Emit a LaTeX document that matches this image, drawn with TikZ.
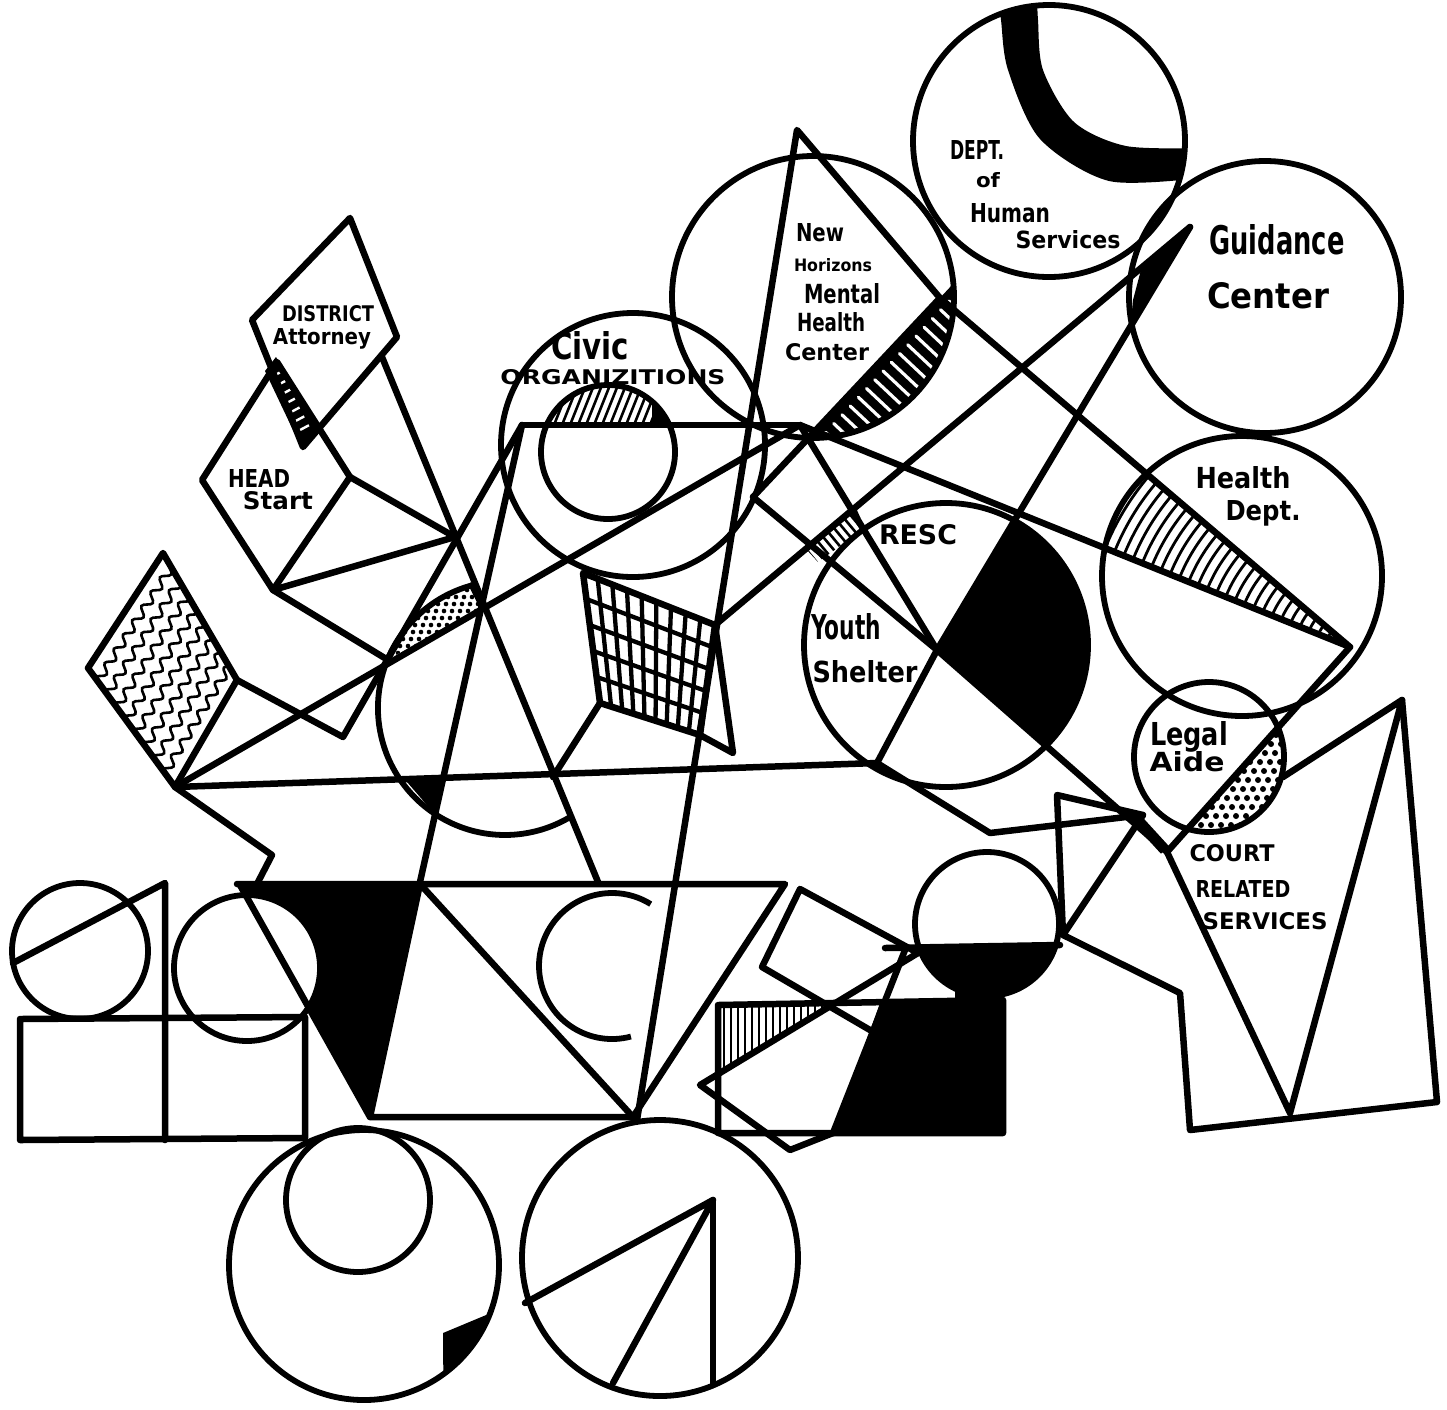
\documentclass[tikz,border=0pt]{standalone}
\usepackage{fontspec}
\setmainfont{DejaVu Sans}
\usepackage{graphicx}
\usetikzlibrary{calc,decorations.pathmorphing}
\newcommand{\rz}[3]{\resizebox{#1pt}{#2pt}{\bfseries #3}}
\begin{document}
\begin{tikzpicture}[x=1pt,y=-1pt,
 ln/.style={line width=6.5pt,line cap=round,line join=round},
 cir/.style={line width=5.8pt},
 lbl/.style={inner sep=0pt,outer sep=0pt},
 thinh/.style={line width=2.6pt}]
\useasboundingbox (0,0) rectangle (1447,1409);
\fill[white] (0,0) rectangle (1447,1409);

% ---------- key points ----------
\coordinate (apex) at (797,130);
\coordinate (bend) at (940,298);
\coordinate (tip) at (1350,647);
\coordinate (court) at (1167,852);
\coordinate (junc) at (937,650);
\coordinate (spike) at (1190,227);
\coordinate (civj) at (753,497);
\coordinate (topR) at (800,425);
\coordinate (topL) at (522,425);
\coordinate (wb) at (175,787);
\coordinate (gTL) at (583,573);
\coordinate (gTR) at (715,625);
\coordinate (gBR) at (700,735);
\coordinate (gBL) at (600,703);

% ---------- fills and hatches ----------
% DHS crescent
\begin{scope}
\clip (1049,141) circle[radius=136];
\fill plot[smooth] coordinates {(998,-5) (1001,20) (1008,70) (1040,139) (1109,181) (1200,178)}
  -- plot[smooth] coordinates {(1200,148) (1126,146) (1074,122) (1043,70) (1038,20) (1037,-5)} -- cycle;
\end{scope}
% Guidance spike
\fill (spike) -- (1142,266) -- (1133,300) -- (1131,322) -- cycle;
% New Horizons hatch
\begin{scope}
\clip (813,297) circle[radius=141];
\clip (795,453) -- (967,269) -- (1113,406) -- (941,590) -- cycle;
\fill (660,150) rectangle (980,460);
\foreach \s in {12,24,...,216}
  \draw[white,line width=3.2pt,line cap=round] ({795+0.685*\s+0.729*8},{453-0.729*\s+0.685*8}) -- ++({0.729*40},{0.685*40});
\end{scope}
% Civic cap
\begin{scope}
\clip (608,452) circle[radius=67];
\clip (530,370) rectangle (690,425);
\foreach \x in {520,528,...,680} \draw[thinh] (\x,430) -- ++(22,-55);
\fill (652,370) rectangle (690,425);
\end{scope}
% District attorney strip
\fill (276,357) -- (265,371) -- (302,449) -- (318,428) -- cycle;
\foreach \t in {0.14,0.26,...,0.9}
  \draw[white,line width=2.4pt] ({271+39*\t-4.4},{364+74*\t+2.3}) -- ++(8.8,-4.7);
% Health Dept wedge
\begin{scope}
\clip (1242,576) circle[radius=140];
\clip (tip) -- (bend) -- (800,427) -- cycle;
\foreach \r in {14,24,...,300} \draw[line width=2.8pt] (tip) circle[radius=\r];
\end{scope}
% RESC black sector
\begin{scope}
\clip (946,645) circle[radius=142];
\fill (junc) -- (spike) -- (1400,227) -- (1400,1000) -- (court) -- cycle;
\end{scope}
% RESC small hatch
\begin{scope}
\clip (806,549) -- (856,508) -- (865,528) -- (818,562) -- cycle;
\foreach \s in {0,7,...,77}
  \draw[thinh] ({800+0.77*\s-0.64*12},{553-0.64*\s-0.77*12}) -- ++({0.64*40},{0.77*40});
\end{scope}
% grid
\foreach \i in {0,...,9} {
  \pgfmathsetmacro\f{\i/9}
  \draw[line width=4.3pt] ($(gTL)!\f!(gTR)$) -- ($(gBL)!\f!(gBR)$);
}
\foreach \j in {0,...,5} {
  \pgfmathsetmacro\f{\j/5}
  \draw[line width=4.3pt] ($(gTL)!\f!(gBL)$) -- ($(gTR)!\f!(gBR)$);
}
% wave box
\begin{scope}
\clip (163,553) -- (237,680) -- (wb) -- (88,668) -- cycle;
\foreach \k in {1,...,8} {
  \pgfmathsetmacro\f{\k/9}
  \draw[line width=2.6pt,decorate,decoration={snake,amplitude=4pt,segment length=17pt}]
    ($(88,668)!\f!(wb) + (-11,17)$) -- ($(163,553)!\f!(237,680) + (11,-17)$);
}
\end{scope}
% stipple strip on the big arc
\begin{scope}
\clip (483,607) -- (472.1,585.3) arc[start angle=255,end angle=202.3,radius=127] -- cycle;
\foreach \y [count=\j] in {576,583,...,668} {
  \pgfmathsetmacro\o{mod(\j*5,7)}
  \foreach \x in {378,386,...,492} { \fill ({\x+\o},\y) circle[radius=2.3]; }
}
\end{scope}
% Legal stipple
\begin{scope}
\clip (1209,757) circle[radius=75];
\clip (tip) -- (court) -- (1300,900) -- (1400,700) -- cycle;
\foreach \y [count=\j] in {690,699,...,845} {
  \pgfmathsetmacro\o{mod(\j*4,9)}
  \foreach \x in {1160,1170,...,1300} { \fill ({\x+\o},\y) circle[radius=3]; }
}
\end{scope}
% black triangle in trapezoid (circle left white)
\fill (240,885) -- (420,883) -- (370,1117) -- cycle;
\fill[white] (247,968) circle[radius=73];
% small black bits
\fill (407,782) -- (443,780) -- (433,812) -- cycle;
\fill (443,1333) -- (490,1313.4) arc[start angle=21,end angle=54,radius=135] -- cycle;
% half circle and black block
\begin{scope}
\clip (987,924) circle[radius=72];
\fill (900,946) rectangle (1070,1010);
\end{scope}
\fill (833,1133) -- (880,1003) -- (1003,1000) -- (1003,1133) -- cycle;
\fill (955,985) rectangle (1003,1002);
% hatched triangle
\begin{scope}
\clip (718,1005) -- (835,1003) -- (718,1074) -- cycle;
\foreach \x in {724,731,...,836} \draw[thinh] (\x,995) -- (\x,1080);
\end{scope}
% court black bit
\draw[line width=11pt] (1133,815) -- (1165,850);

% ---------- circles ----------
\draw[cir] (1049,141) circle[radius=136];
\draw[cir] (1265,297) circle[radius=136];
\draw[cir] (813,297) circle[radius=141];
\draw[cir] (633,445) circle[radius=132];
\draw[cir] (608,452) circle[radius=67];
\draw[cir] (1242,576) circle[radius=140];
\draw[cir] (946,645) circle[radius=142];
\draw[cir] (1209,757) circle[radius=75];
\draw[cir] (987,924) circle[radius=72];
\draw[cir] (80,951) circle[radius=68];
\draw[cir] (247,968) circle[radius=73];
\draw[cir] (364,1265) circle[radius=135];
\draw[cir] (358,1200) circle[radius=72];
\draw[cir] (660,1258) circle[radius=138];
\draw[cir] (472.1,585.3) arc[start angle=255,end angle=59,radius=127];
\draw[cir] (650.7,904.1) arc[start angle=-58,end angle=-285,radius=73];

% ---------- lines ----------
% district attorney and head start
\draw[ln] (350,218) -- (397,337) -- (303,447) -- (252,320) -- cycle;
\draw[ln] (277,362) -- (350,477) -- (273,590) -- (202,480) -- cycle;
\draw[ln] (382,357) -- (598,882);
\draw[ln] (350,477) -- (455,537) -- (273,590);
\draw[ln] (273,590) -- (388,660);
\draw[ln] (topL) -- (343,737) -- (237,680);
\draw[ln] (topL) -- (420,882);
\draw[ln] (topL) -- (topR);
\draw[ln] (wb) -- (topR);
\draw[ln] (163,553) -- (237,680) -- (wb) -- (88,668) -- cycle;
\draw[ln] (wb) -- (877,763) -- (990,833) -- (1143,815);
\draw[ln] (wb) -- (272,855) -- (257,884);
\draw[ln] (483,607) -- (472.1,585.3);
% big triangle and crossings
\draw[ln] (637,1120) -- (apex) -- (bend) -- (tip) -- (court) -- (1290,1113) -- (1402,700) -- (1283,777);
\draw[ln] (civj) -- (bend);
\draw[ln] (civj) -- (junc) -- (court);
\draw[ln] (topR) -- (junc);
\draw[ln] (topR) -- (tip);
\draw[ln] (gTR) -- (spike);
\draw[ln] (junc) -- (spike);
\draw[ln] (junc) -- (877,763);
% grid outline
\draw[ln] (gTL) -- (gTR) -- (733,753) -- (gBR) -- (gBL) -- cycle;
\draw[ln] (gTR) -- (gBR);
\draw[ln] (gBL) -- (553,777);
% court related services
\draw[ln] (1402,700) -- (1437,1102) -- (1190,1130) -- (1180,993) -- (1063,935) -- (1057,795) -- (1143,815) -- (1063,935);
% half circle chord and tilted shapes
\draw[ln] (885,948) -- (1060,945);
\draw[ln] (918,953) -- (800,889) -- (762,967) -- (870,1030);
\draw[ln] (918,953) -- (700,1085) -- (790,1150) -- (833,1133);
\draw[ln] (718,1005) -- (1003,1000) -- (1003,1133) -- (718,1133) -- cycle;
\draw[ln] (833,1133) -- (905,950);
% trapezoid
\draw[ln] (237,884) -- (785,884) -- (633,1117) -- (370,1117) -- (420,884);
\draw[ln] (240,885) -- (370,1117);
\draw[ln] (420,884) -- (633,1117);
% lower left
\draw[ln] (13,963) -- (165,883) -- (165,1140);
\draw[ln] (20,1019) -- (305,1017) -- (305,1138) -- (20,1140) -- cycle;
% bottom right circle triangle
\draw[ln] (525,1303) -- (713,1200) -- (613,1383);
\draw[ln] (713,1200) -- (713,1385);

% ---------- labels ----------
\node[lbl] (t1) at (328,314) {\rz{92}{16}{DISTRICT}};
\node[lbl] (t2) at (322,339) {\rz{98}{16}{Attorney}};
\node[lbl] (t3) at (259,478) {\rz{62}{18}{HEAD}};
\node[lbl] (t4) at (278,501) {\rz{70}{18}{Start}};
\node[lbl] (t5) at (590,346) {\rz{78}{28}{Civic}};
\node[lbl] (t6) at (613,377) {\rz{225}{15}{ORGANIZITIONS}};
\node[lbl] (t7) at (820,233) {\rz{48}{18}{New}};
\node[lbl] (t8) at (833,265) {\rz{78}{13}{Horizons}};
\node[lbl] (t9) at (842,294) {\rz{76}{20}{Mental}};
\node[lbl] (t10) at (831,322) {\rz{68}{19}{Health}};
\node[lbl] (t11) at (827,352) {\rz{84}{17}{Center}};
\node[lbl] (t12) at (977,150) {\rz{54}{19}{DEPT.}};
\node[lbl] (t13) at (988,180) {\rz{24}{15}{of}};
\node[lbl] (t14) at (1010,213) {\rz{80}{19}{Human}};
\node[lbl] (t15) at (1068,240) {\rz{105}{18}{Services}};
\node[lbl] (t16) at (1277,240) {\rz{135}{30}{Guidance}};
\node[lbl] (t17) at (1268,296) {\rz{122}{26}{Center}};
\node[lbl] (t18) at (1243,478) {\rz{95}{22}{Health}};
\node[lbl] (t19) at (1263,513) {\rz{75}{20}{Dept.}};
\node[lbl] (t20) at (918,535) {\rz{78}{20}{RESC}};
\node[lbl] (t21) at (846,627) {\rz{70}{26}{Youth}};
\node[lbl] (t22) at (865,672) {\rz{105}{22}{Shelter}};
\node[lbl] (t23) at (1189,737) {\rz{78}{24}{Legal}};
\node[lbl] (t24) at (1187,762) {\rz{75}{20}{Aide}};
\node[lbl] (t25) at (1232,853) {\rz{85}{17}{COURT}};
\node[lbl] (t26) at (1243,889) {\rz{95}{17}{RELATED}};
\node[lbl] (t27) at (1265,921) {\rz{125}{17}{SERVICES}};
\end{tikzpicture}
\end{document}
